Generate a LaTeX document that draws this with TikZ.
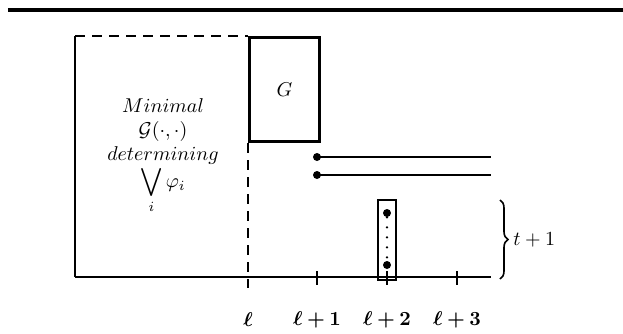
\documentclass[tikz,border=0pt]{standalone}
\usepackage{amsmath,amssymb,bm}
\usepackage{tikz}
\usetikzlibrary{positioning,decorations.pathreplacing}

\begin{document}
\begin{tikzpicture}[x=0.5pt,y=-0.5pt,
		dot/.style={circle,fill,inner sep=0pt,minimum size=4pt},
		frame/.style={line width=1pt},
		dashframe/.style={line width=1pt,dash pattern=on 5pt off 3.5pt}]
				\useasboundingbox (0,0) rectangle (623,333);
				% top rule
				\draw[line width=1.8pt] (8,10) -- (623,10);
				% left region
				\coordinate (tl) at (75,36);
				\coordinate (bl) at (75,277);
				\coordinate (br) at (491,277);
				\draw[frame] (bl) -- (tl);
				\draw[dashframe] (tl) -- (248,36);
				\node[align=center,inner sep=0pt] (txt) at (163,156) {$Minimal$\\$\mathcal{G}(\cdot,\cdot)$\\$determining$\\$\displaystyle\bigvee_i\varphi_i$};
				% G box
				\node[draw,line width=1.5pt,anchor=north west,minimum width=35pt,minimum height=52pt] (G) at (248,36) {$G$};
				\coordinate (lend) at (248,288);
				\draw[dashframe] (G.south west) -- (lend);
				% axis
				\draw[frame] (bl) -- (br);
				\foreach \x in {317,387,457}{
					\draw[frame] (\x,271) -- (\x,285);
				}
				% x labels
				\foreach \x/\lbl in {248/\ell,317/\ell+1,387/\ell+2,457/\ell+3}{
					\node (x\x) at (\x,320) {$\bm{\lbl}$};
				}
				% two strands
				\node[dot] (p1) at (317,157) {};
				\node[dot] (p2) at (317,175) {};
				\coordinate (e1) at (491,157);
				\coordinate (e2) at (491,175);
				\draw[line width=1.3pt] (p1.center) -- (e1);
				\draw[line width=1pt] (p2.center) -- (e2);
				% column
				\node[draw,frame,minimum width=9pt,minimum height=40pt,inner sep=0pt] (col) at (387,240) {};
				\node[dot] (c1) at (387,213) {};
				\node[dot] (c2) at (387,265) {};
				\draw[line width=1.3pt,line cap=round,dash pattern=on 0pt off 5pt] (c1) -- (c2);
				% brace
				\coordinate (bt) at (500,200);
				\coordinate (bb) at (500,279);
				\draw[line width=0.8pt,decorate,decoration={brace,amplitude=4pt}] (bt) -- (bb)
					node[midway,right=3pt] (tlab) {$t+1$};
			\end{tikzpicture}
\end{document}
